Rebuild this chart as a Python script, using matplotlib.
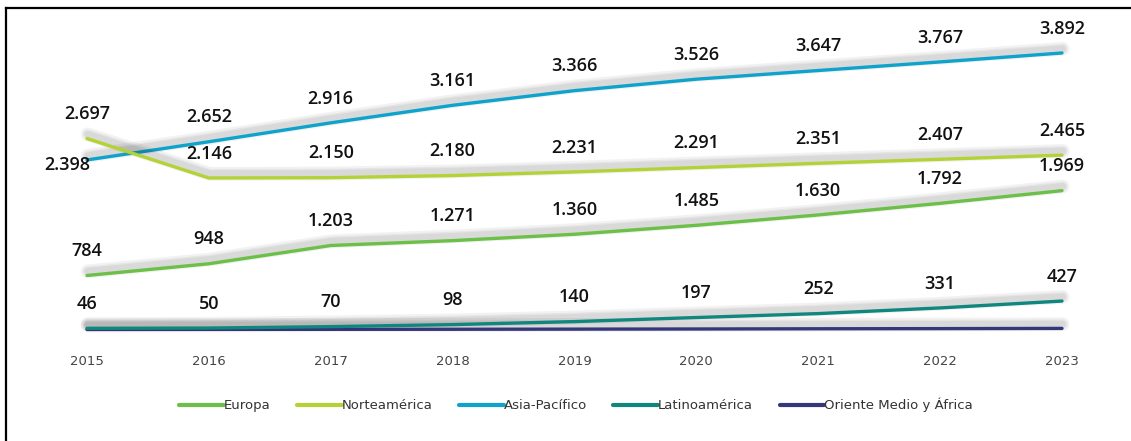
import matplotlib.pyplot as plt
import matplotlib.patheffects as pe
from matplotlib.lines import Line2D

years = [2015, 2016, 2017, 2018, 2019, 2020, 2021, 2022, 2023]
europa = [784, 948, 1203, 1271, 1360, 1485, 1630, 1792, 1969]
norteamerica = [2697, 2146, 2150, 2180, 2231, 2291, 2351, 2407, 2465]
asia_pacifico = [2398, 2652, 2916, 3161, 3366, 3526, 3647, 3767, 3892]
latinoamerica = [46, 50, 70, 98, 140, 197, 252, 331, 427]
oriente_africa = [30, 31, 32, 33, 35, 37, 40, 42, 45]

series = [
    ("Europa", europa, "#6cc04a", True),
    ("Norteamérica", norteamerica, "#b3d236", True),
    ("Asia-Pacífico", asia_pacifico, "#0fa3cc", True),
    ("Latinoamérica", latinoamerica, "#10877e", True),
    ("Oriente Medio y África", oriente_africa, "#34387a", False),
]

shadow = [pe.SimpleLineShadow(offset=(0.5, 3), shadow_color="k", alpha=0.05, linewidth=w)
          for w in (10, 7, 5)]
shadow.append(pe.Normal())

fig = plt.figure(figsize=(11.31, 4.41), dpi=100)
ax = fig.add_axes([87 / 1131, 0.248, 975 / 1131, 0.6494])

def fmt(v):
    return f"{v:,}".replace(",", ".")

# draw bottom series first so upper ones sit on top
for name, vals, color, labelled in reversed(series):
    ax.plot(years, vals, color=color, lw=2.4, solid_capstyle="round",
            clip_on=False, path_effects=shadow, label=name)

for name, vals, color, labelled in series:
    if not labelled:
        continue
    for i, (x, v) in enumerate(zip(years, vals)):
        off = (0, 17.5)
        if name == "Asia-Pacífico" and i == 0:
            off = (-14, -3.5)
        ax.annotate(fmt(v), (x, v), xytext=off, textcoords="offset points",
                    ha="center", va="center", fontsize=13, color="#111111",
                    family=["Open Sans", "DejaVu Sans"], weight="semibold")

ax.set_xlim(2015, 2023)
ax.set_ylim(0, 4000)
ax.set_xticks(years)
ax.set_xticklabels([str(y) for y in years], color="#444444", fontsize=9.5)
ax.tick_params(axis="x", length=0, pad=17)
ax.set_yticks([])
for s in ax.spines.values():
    s.set_visible(False)

handles, labels = ax.get_legend_handles_labels()
handles, labels = handles[::-1], labels[::-1]
leg = fig.legend(handles, labels, ncol=5, loc="center",
                 bbox_to_anchor=(576 / 1131, 1 - 405 / 441), frameon=False,
                 prop={"family": "DejaVu Sans", "size": 9.5},
                 handlelength=3.4, handletextpad=0.0, columnspacing=2.0)
for h in leg.legend_handles:
    h.set_linewidth(3)
    h.set_path_effects([])
for t in leg.get_texts():
    t.set_color("#333333")

# partial frame: top and left edges
fig.add_artist(Line2D([5.5 / 1131, 5.5 / 1131], [0, 1 - 8 / 441], color="k", lw=1.6))
fig.add_artist(Line2D([5.5 / 1131, 1], [1 - 8 / 441, 1 - 8 / 441], color="k", lw=1.6))

fig.savefig("out.png", dpi=100)
